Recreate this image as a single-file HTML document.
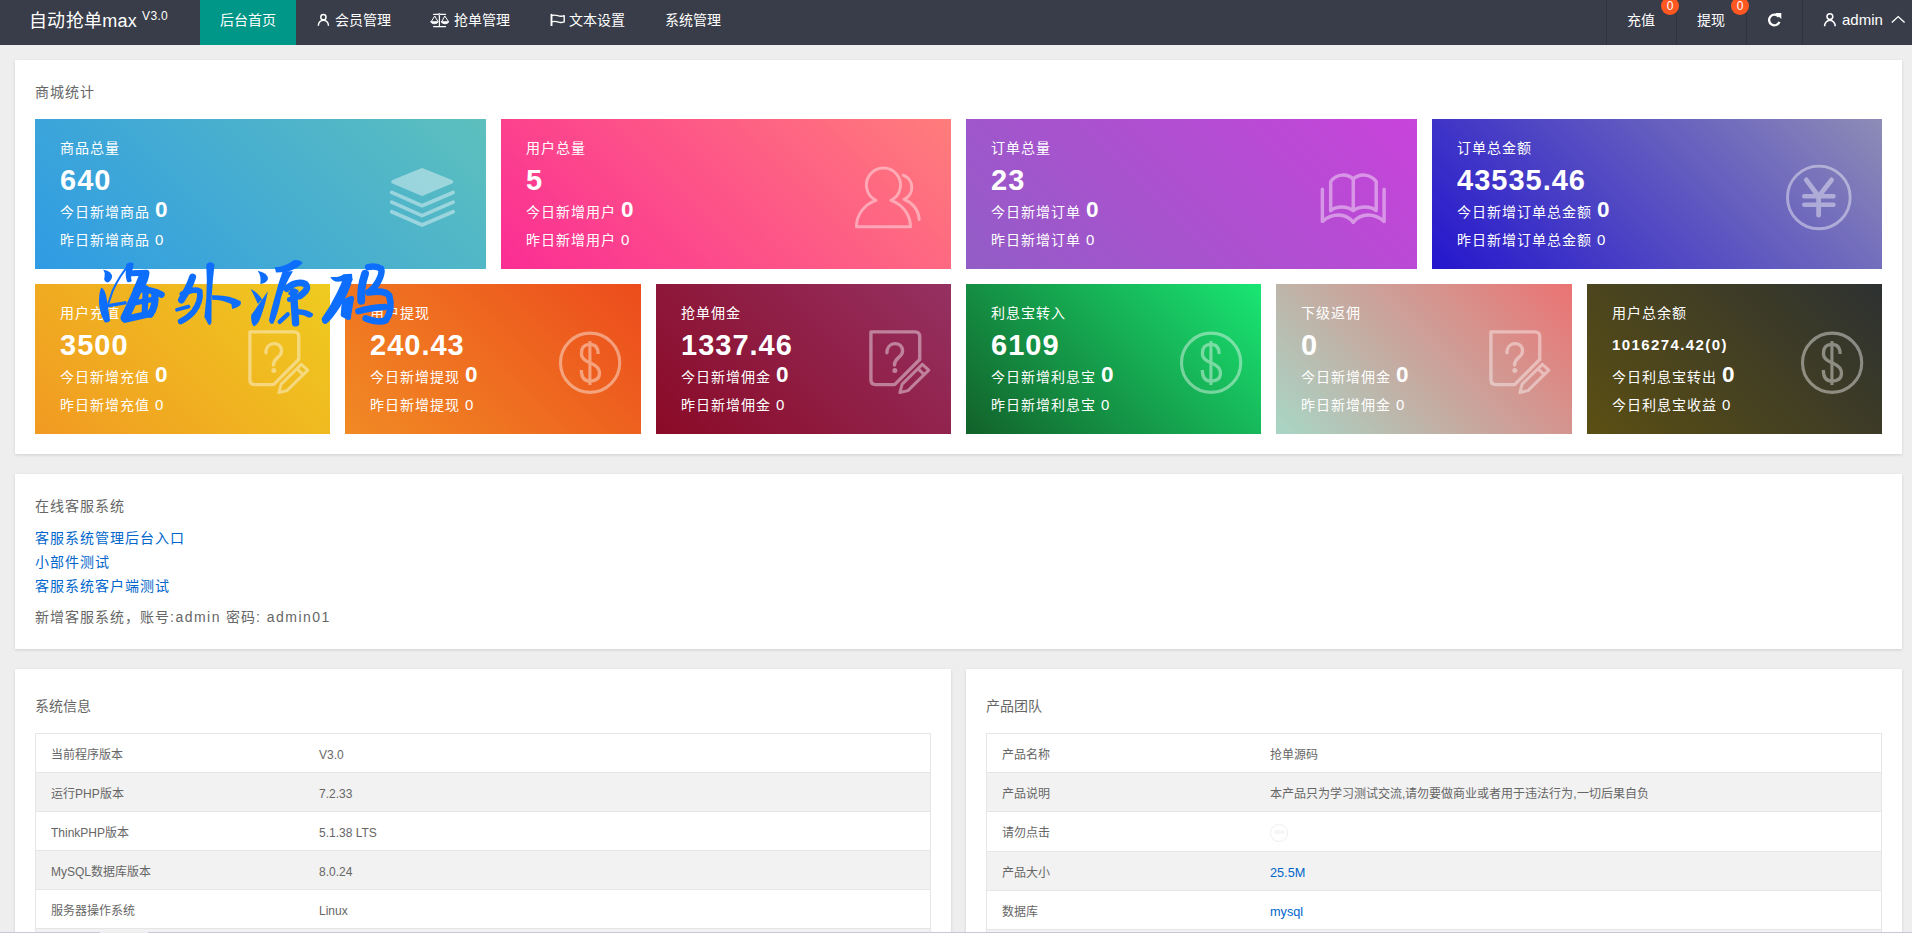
<!DOCTYPE html>
<html lang="zh-CN">
<head>
<meta charset="utf-8">
<title>自动抢单max</title>
<style>
*{box-sizing:border-box;margin:0;padding:0}
html,body{width:1912px;height:933px;overflow:hidden}
body{position:relative;background:#eee;font-family:"Liberation Sans",sans-serif;font-size:14px;color:#666}
.abs{position:absolute}
/* ---------- NAV ---------- */
#nav{position:absolute;left:0;top:0;width:1912px;height:45px;background:#393d49;color:#fff}
#nav .t{position:absolute;top:0;height:45px;line-height:40px;font-size:14px;color:#fff;white-space:nowrap}
#logo{position:absolute;left:29px;top:1.5px;letter-spacing:.3px;height:45px;line-height:39px;font-size:18px;color:#fff;white-space:nowrap}
#logo sup{font-size:12px;position:relative;top:-7px;vertical-align:baseline;margin-left:5px}
#tab{position:absolute;left:200px;top:0;width:96px;height:45px;background:#009688}
.sep{position:absolute;top:0;width:1px;height:45px;background:rgba(0,0,0,.16)}
.badge{position:absolute;top:-3px;width:18px;height:18px;border-radius:9px;background:#ff5722;color:#fff;font-size:12px;line-height:18px;text-align:center}
#nav svg{position:absolute}
/* ---------- CARDS ---------- */
.card{position:absolute;background:#fff;box-shadow:0 1px 3px rgba(0,0,0,.13)}
.ct{position:absolute;left:20px;top:22px;font-size:14px;line-height:20px;letter-spacing:1px;color:#666;white-space:nowrap}
/* ---------- STAT BOXES ---------- */
.sb{position:absolute;height:150px;color:#fff;overflow:hidden}
.sb div{position:absolute;left:25px;white-space:nowrap;color:#fff}
.sb .l1{top:18px;font-size:14px;line-height:22px;letter-spacing:1px}
.sb .l2{top:43px;font-size:29px;line-height:36px;font-weight:bold;letter-spacing:1px}
.sb .l3{top:76px;font-size:14px;line-height:30px;letter-spacing:1px}
.sb .l3 b{font-size:22.5px;margin-left:0px;position:relative;top:0px;letter-spacing:0}
.sb .l4{top:109px;font-size:14px;line-height:24px;letter-spacing:1px}
.sb .l4 span{font-size:15px;margin-left:0px;letter-spacing:0}
.sb svg{position:absolute;top:31px;width:120px;height:90px}

/* ---------- KEFU ---------- */
.lk{position:absolute;left:20px;font-size:14px;line-height:24px;letter-spacing:1px;color:#0066cc;white-space:nowrap}
.note{position:absolute;left:20px;top:131px;font-size:14px;line-height:24px;letter-spacing:1px;color:#666;white-space:nowrap}
/* ---------- TABLES ---------- */
.tb{position:absolute;left:20px;top:64px;width:896px;border:1px solid #e6e6e6;border-bottom:none}
.tr{position:relative;height:39px;border-bottom:1px solid #e6e6e6;background:#fff}
.tr.g{background:#f2f2f2}
.tr span{position:absolute;top:2px;font-size:12px;line-height:38px;color:#666;white-space:nowrap}
.tr .a{left:15px}
.tr .b{left:283px}
.tr .b.l{color:#0066cc;font-size:12.7px}
.c404{position:absolute;left:283px;top:12px;width:18px;height:18px;border-radius:9px;border:1.5px solid #f0eff0;background:#fff;font-size:6px;line-height:15px;text-align:center;color:#efefef;font-style:normal;font-weight:bold}
.la{letter-spacing:1.5px}
</style>
</head>
<body>
<!-- NAV -->
<div id="nav">
  <div id="logo">自动抢单max<sup>V3.0</sup></div>
  <div id="tab"></div>
  <div class="t" style="left:220px">后台首页</div>
  <div class="t" style="left:335px">会员管理</div>
  <div class="t" style="left:454px">抢单管理</div>
  <div class="t" style="left:569px">文本设置</div>
  <div class="t" style="left:665px">系统管理</div>
  <div class="sep" style="left:1606px"></div>
  <div class="sep" style="left:1676px"></div>
  <div class="sep" style="left:1746px"></div>
  <div class="sep" style="left:1802px"></div>
  <div class="t" style="left:1627px">充值</div>
  <div class="badge" style="left:1661px">0</div>
  <div class="t" style="left:1697px">提现</div>
  <div class="badge" style="left:1731px">0</div>
  <div class="t" style="left:1842px;font-size:15px">admin</div>
  <!-- user icon (会员管理) -->
  <svg style="left:317px;top:13px" width="13" height="14" viewBox="0 0 13 14" fill="none" stroke="#fff" stroke-width="1.5"><circle cx="6.4" cy="4.2" r="2.6"/><path d="M1.3 12.8 A5.1 5.6 0 0 1 11.5 12.8"/></svg>
  <!-- scales icon (抢单管理) -->
  <svg style="left:430px;top:12px" width="20" height="16" viewBox="0 0 20 16" fill="none" stroke="#fff" stroke-width="1.25" stroke-linecap="round" stroke-linejoin="round"><path d="M9.4 2.4 V14.5 M3.6 14.5 H15.5 M3.6 2.4 H15.5"/><path d="M4.5 4.3 L1.1 9.9 H7.8Z M14.6 4.3 L11.6 9.9 H18.3Z" stroke-width="1"/><path d="M0.9 9.9 H7.9 Q7.4 11.8 4.4 11.8 Q1.4 11.8 0.9 9.9Z M11.5 9.9 H18.5 Q18 11.8 15 11.8 Q12 11.8 11.5 9.9Z" fill="#fff" stroke-width=".8"/><circle cx="9.4" cy="2.4" r=".9" fill="#393d49" stroke-width="1"/></svg>
  <!-- flag icon (文本设置) -->
  <svg style="left:549px;top:13px" width="18" height="14" viewBox="0 0 18 14" fill="none" stroke="#fff" stroke-width="1.4" stroke-linejoin="round"><path d="M2.5 0.9 V13" stroke-width="1.9"/><path d="M2.5 2.7 Q5.6 1.6 8.8 2.7 T15.2 2.7 V8.9 Q12 10 8.8 8.9 T2.5 8.9"/></svg>
  <!-- refresh -->
  <svg style="left:1766px;top:12px" width="17" height="16" viewBox="0 0 17 16" fill="none" stroke="#fff" stroke-width="2.3"><path d="M12.7 4.9 A5.3 5.3 0 1 0 13.4 9.8"/><path d="M9.2 0.9 H15.3 V7Z" fill="#fff" stroke="none"/></svg>
  <!-- user icon (admin) -->
  <svg style="left:1823px;top:12px" width="14" height="15" viewBox="0 0 14 15" fill="none" stroke="#fff" stroke-width="1.5"><circle cx="6.9" cy="4.6" r="2.9"/><path d="M1.6 14.2 A5.3 6 0 0 1 12.2 14.2"/></svg>
  <!-- caret -->
  <svg style="left:1890px;top:14px" width="16" height="11" viewBox="0 0 16 11" fill="none" stroke="#fff" stroke-width="1.4"><path d="M1.8 8.6 L8.2 2.6 L14.6 8.6"/></svg>
</div>

<!-- CARD 1 : 商城统计 -->
<div class="card" style="left:15px;top:60px;width:1887px;height:394px">
  <div class="ct">商城统计</div>
</div>
<!--STATS-START-->

<!-- row 1 -->
<div class="sb" style="left:35px;top:119px;width:451px;background:linear-gradient(45deg,#2f9be4,#5dc0bd)">
  <div class="l1">商品总量</div><div class="l2">640</div>
  <div class="l3">今日新增商品 <b>0</b></div><div class="l4">昨日新增商品 <span>0</span></div>
  <svg style="left:335px;opacity:.42" viewBox="0 0 1244 933"><g fill="none" stroke="#fff" stroke-linecap="round" stroke-linejoin="round"><path d="M540 207 L842 330 L540 456 L241 330Z" fill="#fff" stroke-width="40"/><path d="M225 440 L540 578 L862 440" stroke-width="38"/><path d="M225 541 L540 680 L862 541" stroke-width="38"/><path d="M225 640 L540 778 L862 640" stroke-width="38"/></g></svg>
</div>
<div class="sb" style="left:501px;top:119px;width:450px;background:linear-gradient(45deg,#fb2d94,#ff7d7b)">
  <div class="l1">用户总量</div><div class="l2">5</div>
  <div class="l3">今日新增用户 <b>0</b></div><div class="l4">昨日新增用户 <span>0</span></div>
  <svg style="left:334px;opacity:.42" viewBox="0 0 1244 933"><g fill="none" stroke="#fff" stroke-width="31" stroke-linecap="round" stroke-linejoin="round"><path d="M425 522 A177 177 0 1 1 580 522 C700 562 780 670 783 795 L222 795 C224 670 305 562 425 522Z"/><path d="M708 262 A135 135 0 0 1 716 512 C800 545 868 620 872 720"/></g></svg>
</div>
<div class="sb" style="left:966px;top:119px;width:451px;background:linear-gradient(45deg,#925dc6,#c843da)">
  <div class="l1">订单总量</div><div class="l2">23</div>
  <div class="l3">今日新增订单 <b>0</b></div><div class="l4">昨日新增订单 <span>0</span></div>
  <svg style="left:334px;opacity:.42" viewBox="0 0 1244 933"><g fill="none" stroke="#fff" stroke-width="36" stroke-linecap="round" stroke-linejoin="round"><path d="M232 408 L232 740 C330 655 470 645 552 750 C634 645 774 655 872 740 L872 408"/><path d="M318 628 L318 328 C375 245 490 240 552 302 C614 240 730 245 790 328 L790 628 C730 580 620 580 552 628 C484 580 378 580 318 628"/><path d="M552 302 L552 628"/></g></svg>
</div>
<div class="sb" style="left:1432px;top:119px;width:450px;background:linear-gradient(45deg,#2416cd,#8e8cb6)">
  <div class="l1">订单总金额</div><div class="l2">43535.46</div>
  <div class="l3">今日新增订单总金额 <b>0</b></div><div class="l4">昨日新增订单总金额 <span>0</span></div>
  <svg style="left:333px;opacity:.42" viewBox="0 0 1244 933"><g fill="none" stroke="#fff" stroke-linecap="round" stroke-linejoin="round"><circle cx="558" cy="492" r="325" stroke-width="30"/><path d="M428 310 L556 482 L690 310" stroke-width="50"/><path d="M407 480 L710 480 M407 568 L710 568" stroke-width="46"/><path d="M556 482 L556 676" stroke-width="50"/></g></svg>
</div>
<!-- row 2 -->
<div class="sb" style="left:35px;top:284px;width:295px;background:linear-gradient(45deg,#f19a22,#efcb1f)">
  <div class="l1">用户充值</div><div class="l2">3500</div>
  <div class="l3">今日新增充值 <b>0</b></div><div class="l4">昨日新增充值 <span>0</span></div>
  <svg style="left:180px;opacity:.42" viewBox="0 0 1244 933"><g fill="none" stroke="#fff" stroke-width="35" stroke-linejoin="round"><path d="M362 175 L820 175 Q868 175 868 225 L868 462 L608 722 L412 722 Q362 722 362 672Z"/><path d="M528 392 C528 268 690 268 690 372 C690 440 606 440 606 518" stroke-linecap="round"/><circle cx="610" cy="576" r="12" fill="#fff" stroke-width="28"/><path d="M895 512 L962 572 L746 784 L662 804 L686 716Z M850 556 L916 620" stroke-width="31"/></g></svg>
</div>
<div class="sb" style="left:345px;top:284px;width:296px;background:linear-gradient(45deg,#f18a24,#ec4c1c)">
  <div class="l1">用户提现</div><div class="l2">240.43</div>
  <div class="l3">今日新增提现 <b>0</b></div><div class="l4">昨日新增提现 <span>0</span></div>
  <svg style="left:180px;opacity:.42" viewBox="0 0 1244 933"><g fill="none" stroke="#fff" stroke-linejoin="round"><circle cx="675" cy="495" r="307" stroke-width="32"/><path d="M758 405 C758 335 730 305 672 305 C605 305 585 350 585 398 C585 462 640 480 690 502 C745 526 772 560 772 602 C772 655 735 685 672 685 C605 685 584 640 584 570" stroke-width="34"/><path d="M673 270 L673 726" stroke-width="32"/></g></svg>
</div>
<div class="sb" style="left:656px;top:284px;width:295px;background:linear-gradient(45deg,#8a0a26,#953162)">
  <div class="l1">抢单佣金</div><div class="l2">1337.46</div>
  <div class="l3">今日新增佣金 <b>0</b></div><div class="l4">昨日新增佣金 <span>0</span></div>
  <svg style="left:180px;opacity:.42" viewBox="0 0 1244 933"><g fill="none" stroke="#fff" stroke-width="35" stroke-linejoin="round"><path d="M362 175 L820 175 Q868 175 868 225 L868 462 L608 722 L412 722 Q362 722 362 672Z"/><path d="M528 392 C528 268 690 268 690 372 C690 440 606 440 606 518" stroke-linecap="round"/><circle cx="610" cy="576" r="12" fill="#fff" stroke-width="28"/><path d="M895 512 L962 572 L746 784 L662 804 L686 716Z M850 556 L916 620" stroke-width="31"/></g></svg>
</div>
<div class="sb" style="left:966px;top:284px;width:295px;background:linear-gradient(45deg,#12612a,#19e673)">
  <div class="l1">利息宝转入</div><div class="l2">6109</div>
  <div class="l3">今日新增利息宝 <b>0</b></div><div class="l4">昨日新增利息宝 <span>0</span></div>
  <svg style="left:180px;opacity:.42" viewBox="0 0 1244 933"><g fill="none" stroke="#fff" stroke-linejoin="round"><circle cx="675" cy="495" r="307" stroke-width="32"/><path d="M758 405 C758 335 730 305 672 305 C605 305 585 350 585 398 C585 462 640 480 690 502 C745 526 772 560 772 602 C772 655 735 685 672 685 C605 685 584 640 584 570" stroke-width="34"/><path d="M673 270 L673 726" stroke-width="32"/></g></svg>
</div>
<div class="sb" style="left:1276px;top:284px;width:296px;background:linear-gradient(45deg,#a8d6c5,#eb7373)">
  <div class="l1">下级返佣</div><div class="l2">0</div>
  <div class="l3">今日新增佣金 <b>0</b></div><div class="l4">昨日新增佣金 <span>0</span></div>
  <svg style="left:180px;opacity:.42" viewBox="0 0 1244 933"><g fill="none" stroke="#fff" stroke-width="35" stroke-linejoin="round"><path d="M362 175 L820 175 Q868 175 868 225 L868 462 L608 722 L412 722 Q362 722 362 672Z"/><path d="M528 392 C528 268 690 268 690 372 C690 440 606 440 606 518" stroke-linecap="round"/><circle cx="610" cy="576" r="12" fill="#fff" stroke-width="28"/><path d="M895 512 L962 572 L746 784 L662 804 L686 716Z M850 556 L916 620" stroke-width="31"/></g></svg>
</div>
<div class="sb" style="left:1587px;top:284px;width:295px;background:linear-gradient(45deg,#5b4f13,#2d3131)">
  <div class="l1">用户总余额</div><div class="l2" style="font-size:15px;top:43px;letter-spacing:1.4px">1016274.42(0)</div>
  <div class="l3">今日利息宝转出 <b>0</b></div><div class="l4">今日利息宝收益 <span>0</span></div>
  <svg style="left:180px;opacity:.42" viewBox="0 0 1244 933"><g fill="none" stroke="#fff" stroke-linejoin="round"><circle cx="675" cy="495" r="307" stroke-width="32"/><path d="M758 405 C758 335 730 305 672 305 C605 305 585 350 585 398 C585 462 640 480 690 502 C745 526 772 560 772 602 C772 655 735 685 672 685 C605 685 584 640 584 570" stroke-width="34"/><path d="M673 270 L673 726" stroke-width="32"/></g></svg>
</div>
<!--STATS-END-->

<!-- CARD 2 : 在线客服系统 -->
<div class="card" style="left:15px;top:474px;width:1887px;height:175px">
  <div class="ct">在线客服系统</div>
  <div class="lk" style="top:52px">客服系统管理后台入口</div>
  <div class="lk" style="top:76px">小部件测试</div>
  <div class="lk" style="top:100px">客服系统客户端测试</div>
  <div class="note">新增客服系统，账号<span class="la">:admin</span> 密码<span class="la">: admin01</span></div>
</div>

<!-- CARD 3 : 系统信息 -->
<div class="card" style="left:15px;top:669px;width:936px;height:300px">
  <div class="ct" style="top:27px;letter-spacing:0">系统信息</div>
  <div class="tb">
    <div class="tr"><span class="a">当前程序版本</span><span class="b">V3.0</span></div>
    <div class="tr g"><span class="a">运行PHP版本</span><span class="b">7.2.33</span></div>
    <div class="tr"><span class="a">ThinkPHP版本</span><span class="b">5.1.38 LTS</span></div>
    <div class="tr g"><span class="a">MySQL数据库版本</span><span class="b">8.0.24</span></div>
    <div class="tr"><span class="a">服务器操作系统</span><span class="b">Linux</span></div>
    <div class="tr g"></div>
  </div>
</div>

<!-- CARD 4 : 产品团队 -->
<div class="card" style="left:966px;top:669px;width:936px;height:300px">
  <div class="ct" style="top:27px;letter-spacing:0">产品团队</div>
  <div class="tb">
    <div class="tr"><span class="a">产品名称</span><span class="b">抢单源码</span></div>
    <div class="tr g"><span class="a">产品说明</span><span class="b">本产品只为学习测试交流,请勿要做商业或者用于违法行为,一切后果自负</span></div>
    <div class="tr" style="height:40px"><span class="a" style="line-height:39px">请勿点击</span><i class="c404">404</i></div>
    <div class="tr g"><span class="a">产品大小</span><span class="b l">25.5M</span></div>
    <div class="tr"><span class="a">数据库</span><span class="b l">mysql</span></div>
    <div class="tr g"></div>
  </div>
</div>
<svg class="abs" style="left:95px;top:255px" width="160" height="80" viewBox="0 0 1866 933" fill="#0d6efd" stroke="#0d6efd" stroke-linecap="round" stroke-linejoin="round">
  <!-- 海 --><path d="M96 172 Q206 190 198 262 Q184 310 148 320 Q94 306 112 250 Q122 208 96 172Z" stroke="none"/><path d="M72 380 Q120 396 138 520 L176 768 Q146 796 112 780 Q60 700 46 560 Q44 450 72 380Z" stroke="none"/><path d="M400 112 Q285 240 205 420 L146 596" fill="none" stroke-width="24"/><path d="M366 104 Q418 76 450 100 L444 154 Q408 222 428 302 Q402 326 374 312 Q346 240 366 104Z" stroke="none"/><path d="M436 214 L600 208 Q592 290 540 368" fill="none" stroke-width="70"/><path d="M552 272 Q470 484 348 734" fill="none" stroke-width="102"/><path d="M482 404 Q650 392 776 462" fill="none" stroke-width="74"/><path d="M696 450 Q716 600 642 690" fill="none" stroke-width="84"/><path d="M350 750 Q500 716 646 684" fill="none" stroke-width="82"/><path d="M444 560 L660 520" fill="none" stroke-width="62"/><path d="M592 390 L578 690" fill="none" stroke-width="72"/><path d="M152 592 L350 558" fill="none" stroke-width="40"/>
  <!-- 外 --><path d="M1138 258 Q1100 380 1008 524" fill="none" stroke-width="82"/><path d="M1020 456 Q1150 386 1222 424 Q1240 540 1150 660 Q1090 730 1000 774" fill="none" stroke-width="68"/><path d="M956 638 L1090 602" fill="none" stroke-width="44"/><path d="M1298 112 Q1344 60 1394 112 L1374 300 L1360 500 L1358 790 Q1340 838 1318 802 L1276 722 L1298 500 L1304 300Z" stroke="none"/><path d="M1365 470 Q1560 460 1700 540 Q1720 600 1600 630 L1590 572 Q1480 520 1365 522Z" stroke="none"/>
</svg>
<svg class="abs" style="left:245px;top:255px" width="160" height="80" viewBox="0 0 1866 933" fill="#0d6efd" stroke="#0d6efd" stroke-linecap="round" stroke-linejoin="round">
  <!-- 源 --><path d="M148 184 Q274 210 266 286 Q238 336 178 338 Q194 250 148 184Z" stroke="none"/><path d="M66 396 Q140 430 200 516 L150 572 Q112 480 66 396Z" stroke="none"/><path d="M74 696 Q140 610 266 424 Q244 560 184 724 Q148 826 100 830 Q62 784 74 696Z" stroke="none"/><path d="M346 144 Q470 138 566 60 Q642 50 672 92 Q612 162 484 198 L362 204Z" stroke="none"/><path d="M440 190 L560 190 Q470 330 420 500 Q380 700 330 800 Q290 812 280 760 Q300 650 350 480 Q390 320 440 190Z" stroke="none"/><path d="M486 392 Q600 296 706 340 Q758 400 640 476" fill="none" stroke-width="78"/><path d="M524 446 L606 424" fill="none" stroke-width="40"/><path d="M516 520 L640 486" fill="none" stroke-width="56"/><path d="M566 432 L590 792" fill="none" stroke-width="86"/><path d="M498 692 L404 780" fill="none" stroke-width="50"/><path d="M616 630 Q724 632 796 688 Q794 730 738 730 Q680 692 616 694Z" stroke="none"/>
  <!-- 码 --><path d="M996 256 Q1100 264 1150 224 L1248 220 L1254 296 L1100 310 Q1026 318 996 256Z" stroke="none"/><path d="M1140 290 L1256 278 Q1210 450 1110 604 Q1006 764 944 806 Q896 808 894 740 Q996 600 1072 440 Q1112 360 1140 290Z" stroke="none"/><path d="M1162 544 L1146 696 L1208 724Z" stroke-width="60"/><path d="M1162 540 L1244 506 L1204 730 L1150 690Z" stroke-width="58"/><path d="M1436 142 Q1530 122 1588 160 Q1604 210 1558 300 Q1518 380 1452 428" fill="none" stroke-width="76"/><path d="M1400 218 Q1346 380 1356 534" fill="none" stroke-width="92"/><path d="M1440 436 Q1636 406 1682 474 Q1728 640 1644 760 Q1560 798 1408 740" fill="none" stroke-width="78"/><path d="M1322 656 Q1450 616 1632 606" fill="none" stroke-width="74"/>
</svg>
<div class="abs" style="left:0;top:932px;width:1912px;height:1px;background:#c9c9d6"></div><div class="abs" style="left:100px;top:932px;width:48px;height:1px;background:#ececf0"></div>
</body>
</html>
